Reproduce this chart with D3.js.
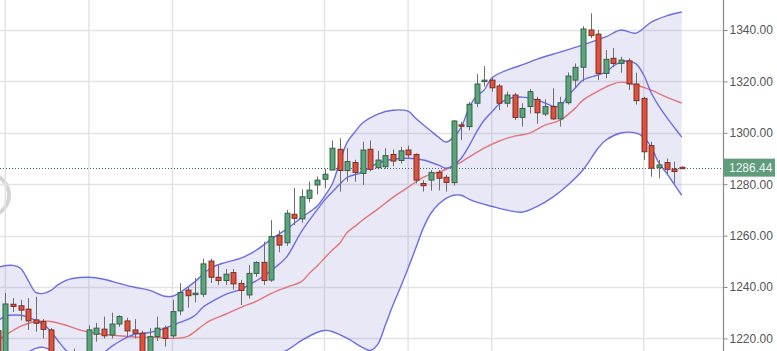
<!DOCTYPE html>
<html><head><meta charset="utf-8">
<script src="https://cdn.jsdelivr.net/npm/d3@7"></script>
<style>html,body{margin:0;padding:0;background:#fff;overflow:hidden}</style>
</head><body><svg id="c" width="777" height="351"></svg>
<script>
// ---- data ----
const openP  = [1223,1213,1233.3,1232.7,1231.4,1227.2,1226.5,1223.3,1210,1205,1207,1210,1212,1221.6,1223.6,1221.3,1225.6,1226.8,1223.3,1222,1213,1220.7,1224,1221,1230.7,1238.8,1237.4,1237.2,1250.1,1243.8,1242.5,1245.6,1241.4,1236.9,1245.3,1249.6,1242.7,1260,1257.2,1268.3,1266.5,1274.5,1279.7,1281.9,1285.5,1293.6,1285.3,1288.4,1284.2,1293.6,1286.4,1286.8,1291.6,1289.2,1293.3,1291.6,1280.3,1281.6,1284.6,1282.7,1280.6,1303.1,1302.4,1311.5,1319.9,1320.5,1318.2,1311.5,1314.7,1306,1310.2,1313,1307.3,1310.2,1305.4,1311.7,1320.5,1325.5,1340,1338.4,1323.1,1329,1327,1328,1319,1313.4,1295,1286.4,1288.4,1285.9,1286.6];
const highP  = [1225,1237.7,1235.7,1235,1235.7,1236.2,1227.5,1224,1212,1211,1216,1215,1225,1226,1228.5,1230,1229,1228,1227.5,1223,1224,1228.5,1225,1235,1241.5,1240,1243.5,1251,1251,1248.6,1247,1247,1242.7,1248.5,1250,1257.6,1266,1262,1270,1278.5,1278,1281,1283,1286,1297,1297.9,1294,1289.5,1296.5,1297,1293,1294,1293.5,1294.5,1295,1292,1281.6,1285.5,1285.5,1283.6,1305,1304.3,1312,1322.9,1326,1321.5,1319,1316,1315.5,1311.5,1317,1314,1313,1317.3,1314,1323.5,1327,1341.5,1346.5,1340,1332.2,1333,1329.6,1329,1323.4,1314,1296.5,1289.4,1290,1288.8,1287];
const lowP   = [1208,1210,1230.3,1227,1223.3,1222.6,1220,1207,1202,1202,1204,1207,1210,1218.7,1220,1220,1224.5,1220.5,1220,1210,1211,1219,1216.8,1220,1229,1232,1234,1236,1241.6,1240.8,1240.8,1239,1233,1235.5,1244,1240.8,1242,1253.5,1256,1264.1,1265,1273,1276,1278.5,1285.5,1277.1,1281,1281,1279.7,1285,1285.8,1286,1287,1288,1290,1280.3,1277.1,1277.5,1277.5,1277.1,1279.5,1297.2,1301,1310,1318,1316,1308.9,1310,1305,1302.4,1307.5,1303.5,1306.5,1305,1302.4,1311,1317.5,1320,1336.8,1320.5,1321.2,1325.5,1323.4,1316.7,1311,1289.4,1282.9,1282.3,1284,1280.3,1286];
const closeP = [1212,1233.4,1232.4,1231,1226.8,1225.9,1223.5,1210,1205,1208,1212,1213,1223.3,1224,1221,1225.6,1228.5,1222.9,1222,1213,1220.7,1224,1220,1230.4,1237.9,1236.6,1237.6,1249,1243.8,1242.5,1245,1241.2,1238.6,1245.3,1249.5,1242.5,1259.6,1256.3,1268.7,1266.7,1275.1,1277.7,1281.6,1283.9,1294,1285.3,1288.8,1284.6,1293.3,1285.8,1289.4,1291.1,1289,1293,1291.4,1281.6,1279.4,1284.5,1282.3,1280.7,1304.6,1302.9,1311.1,1319,1320.5,1317.5,1311.5,1314.7,1306,1309.5,1316,1307.8,1310.2,1305.4,1311.7,1322.1,1325.5,1340.4,1337.8,1323.1,1328.6,1327,1328.3,1319,1312.5,1292.6,1286.2,1287.5,1285.8,1284.9,1286.44];

const upperIdx = [0,2,3,4,5,6,7,8,9,10,12,14,16,18,20,22,23,24,26,28,30,32,34,36,38,40,42,43,44,45,46,47,48,50,52,54,55,57,58,59,60,61,62,63,64,65,67,69,71,74,77,80,82,84,86,88,90];
const upperVal = [1247.7,1248.4,1247.3,1242.6,1237.9,1237.5,1238.7,1241.0,1242.6,1243.4,1243.8,1243.0,1241.4,1239.9,1238.7,1236.4,1236.4,1237.9,1242.2,1247.3,1249.6,1251.2,1254.3,1258.6,1262.5,1267.1,1271.4,1275.3,1280.0,1288.6,1296.4,1300.3,1303.8,1307.3,1308.8,1308.4,1305.7,1300.7,1298.3,1296.4,1298.3,1302.2,1309.6,1314.3,1316.6,1321.3,1324.4,1326.4,1328.7,1331.4,1334.2,1337.3,1340.0,1338.8,1343.1,1345.5,1347.0];

const lowerIdx = [0,2,4,5,6,7,8,10,12,14,16,18,20,22,24,26,28,30,32,34,36,38,40,42,43,44,46,48,49,50,51,52,53,54,55,56,57,58,59,60,61,62,63,65,67,69,71,73,75,77,79,80,82,84,85,86,87,88,89,90];
const lowerVal = [1211.4,1212.2,1214.6,1216.1,1216.5,1215.3,1212.2,1209.5,1208.3,1209.1,1210.7,1211.4,1210.7,1208.3,1206.8,1205.6,1204.4,1205.6,1207.5,1209.5,1213.0,1215.3,1219.2,1222.3,1223.1,1222.7,1220.0,1216.5,1215.3,1217.7,1225.1,1232.9,1239.9,1247.3,1255.1,1262.9,1268.7,1272.2,1274.5,1275.7,1275.7,1274.2,1273.0,1271.4,1269.9,1269.1,1271.4,1274.9,1279.6,1285.5,1294.0,1297.1,1299.9,1299.9,1298.3,1294.4,1288.2,1284.3,1280.0,1275.7];

const midIdx = [0,1,3,4,5,6,7,8,9,10,12,13,14,15,16,17,18,20,22,23,24,25,26,27,28,30,32,33,35,36,37,38,40,42,43,44,45,46,48,50,52,54,56,58,59,60,61,62,63,64,65,66,67,69,71,72,73,74,75,76,77,79,80,81,82,83,84,85,86,87,88,89,90];
const midVal = [1226.6,1228.6,1229.0,1228.2,1227.0,1225.5,1222.7,1218.8,1215.3,1213.0,1211.4,1212.6,1214.6,1216.9,1218.8,1220.4,1221.6,1222.3,1223.9,1225.1,1226.2,1227.4,1229.0,1232.1,1234.0,1237.1,1239.1,1240.7,1244.2,1246.5,1248.8,1251.6,1261.7,1269.9,1273.8,1276.9,1280.0,1282.7,1284.7,1288.2,1289.7,1290.1,1289.4,1287.4,1286.2,1287.4,1290.1,1294.8,1300.3,1304.9,1308.1,1311.2,1313.1,1313.9,1312.7,1311.6,1310.4,1310.4,1314.3,1317.4,1320.5,1322.5,1323.6,1326.0,1327.5,1327.9,1326.8,1322.5,1315.5,1310.4,1306.1,1302.2,1298.3];

const smaIdx = [0,1,3,5,7,9,11,13,15,17,19,21,23,25,27,28,30,32,34,36,38,40,41,42,43,44,45,46,47,48,50,52,54,56,58,60,62,64,66,68,70,72,74,76,77,79,80,82,84,86,88,90];
const smaVal = [1219.2,1221.2,1224.7,1226.6,1226.6,1225.1,1223.1,1222.0,1221.2,1220.8,1220.4,1220.4,1220.0,1220.8,1225.1,1227.0,1229.4,1232.1,1234.4,1237.5,1239.9,1242.2,1245.3,1248.1,1251.2,1254.3,1257.0,1261.3,1263.6,1266.0,1270.3,1274.9,1278.8,1282.7,1284.7,1287.0,1290.5,1294.0,1296.8,1298.7,1299.9,1303.0,1304.9,1309.6,1312.7,1316.2,1317.8,1319.7,1318.6,1316.6,1313.9,1311.6];

const yTicks = [1220,1240,1260,1280,1300,1320,1340];
const gridIdx = [1,12,23,43,54,65,85];
const lastPrice = 1286.44;

// ---- drawing ----
const svg = d3.select('#c');
const W = 777, H = 351, plotR = 723;
const x = d3.scaleLinear().domain([0, 90]).range([-2.3, 681.7]);
const y = d3.scaleLinear().domain([1220, 1340]).range([338.4, 30]);

svg.append('defs').append('clipPath').attr('id','clip')
  .append('rect').attr('x',0).attr('y',0).attr('width',plotR).attr('height',H);
const g = svg.append('g').attr('clip-path','url(#clip)');

// watermark arc
g.append('circle').attr('cx',-12).attr('cy',195).attr('r',21)
  .attr('fill','none').attr('stroke','#d4d4d4').attr('stroke-width',4);

// grid
g.selectAll('line.hg').data(yTicks).join('line').attr('class','hg')
  .attr('x1',0).attr('x2',plotR).attr('y1',d=>Math.round(y(d))+0.5).attr('y2',d=>Math.round(y(d))+0.5)
  .attr('stroke','#e4e4e4').attr('stroke-width',1.5);
g.selectAll('line.vg').data(gridIdx).join('line').attr('class','vg')
  .attr('x1',d=>x(d)).attr('x2',d=>x(d)).attr('y1',0).attr('y2',H)
  .attr('stroke','#e4e4e4').attr('stroke-width',1.5);

// band fill
const pts = (idx, val) => idx.map((d,i)=>[x(d), y(val[i])]);
const up = pts(upperIdx, upperVal), lo = pts(lowerIdx, lowerVal);
const lineGen = d3.line().curve(d3.curveCatmullRom.alpha(0.5));
const upPath = lineGen(up);
const loRevPath = lineGen(lo.slice().reverse()).replace(/^M/, 'L');
g.append('path').attr('d', upPath + loRevPath + 'Z')
  .attr('fill','rgb(120,120,205)').attr('fill-opacity',0.17);

// dotted last price line
g.append('line').attr('x1',0).attr('x2',plotR)
  .attr('y1',Math.round(y(lastPrice))+0.5).attr('y2',Math.round(y(lastPrice))+0.5)
  .attr('stroke','#3d6d5f').attr('stroke-width',1).attr('stroke-dasharray','1,2');

// indicator lines
const blue = '#6d6de3', red = '#e2767a';
g.append('path').attr('d', lineGen(pts(smaIdx, smaVal))).attr('fill','none').attr('stroke',red).attr('stroke-width',1.4);
g.append('path').attr('d', upPath).attr('fill','none').attr('stroke',blue).attr('stroke-width',1.4);
g.append('path').attr('d', lineGen(lo)).attr('fill','none').attr('stroke',blue).attr('stroke-width',1.4);
g.append('path').attr('d', lineGen(pts(midIdx, midVal))).attr('fill','none').attr('stroke',blue).attr('stroke-width',1.4);

// candles
const candles = openP.map((o,i)=>({i, o, h:highP[i], l:lowP[i], c:closeP[i]}));
const cg = g.append('g');
cg.selectAll('line.w').data(candles).join('line').attr('class','w')
  .attr('x1',d=>Math.round(x(d.i))+0.5).attr('x2',d=>Math.round(x(d.i))+0.5)
  .attr('y1',d=>y(d.h)).attr('y2',d=>y(d.l))
  .attr('stroke','#6e6e6e').attr('stroke-width',1);
const bw = 5;
cg.selectAll('rect.b').data(candles).join('rect').attr('class','b')
  .attr('x',d=>Math.round(x(d.i))-2)
  .attr('width',bw)
  .attr('y',d=>y(Math.max(d.o,d.c)))
  .attr('height',d=>Math.max(1.5, Math.abs(y(d.o)-y(d.c))))
  .attr('fill',d=>d.c>=d.o ? '#5aa57c' : '#e2503b')
  .attr('stroke',d=>d.c>=d.o ? '#2d5a3f' : '#6d2a1f')
  .attr('stroke-width',0.9);

// right axis
svg.append('line').attr('x1',plotR+0.5).attr('x2',plotR+0.5).attr('y1',0).attr('y2',H)
  .attr('stroke','#8a8a8a').attr('stroke-width',1.2);
const ax = svg.append('g').attr('transform',`translate(${plotR+0.5},0)`)
  .call(d3.axisRight(y).tickValues(yTicks).tickFormat(d3.format('.2f')).tickSize(4).tickPadding(2));
ax.select('.domain').remove();
ax.selectAll('line').attr('stroke','#8a8a8a');
ax.selectAll('text').attr('fill','#555').style('font-family','"Liberation Sans", Arial, sans-serif').style('font-size','12px');

// last price box
const ly = y(lastPrice);
svg.append('rect').attr('x',plotR+1).attr('y',ly-9).attr('width',W-plotR-3).attr('height',18).attr('fill','#5e9c7c');
svg.append('text').attr('x',plotR+6).attr('y',ly+4.5).text(d3.format('.2f')(lastPrice))
  .attr('fill','#eef5f0').style('font-family','"Liberation Sans", Arial, sans-serif').style('font-size','12px');
</script></body></html>
